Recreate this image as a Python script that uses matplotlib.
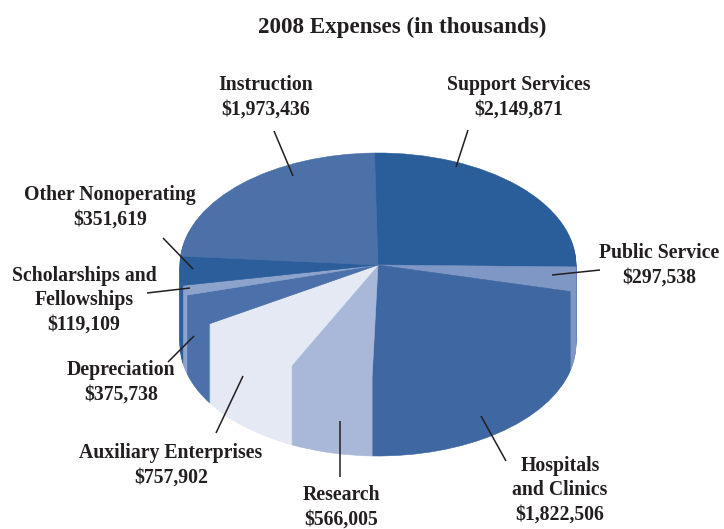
import matplotlib
matplotlib.use("Agg")
import matplotlib.pyplot as plt

categories = ["Support Services", "Public Service", "Hospitals and Clinics", "Research",
              "Auxiliary Enterprises", "Depreciation", "Scholarships and Fellowships",
              "Other Nonoperating", "Instruction"]
expenses = [2149871, 297538, 1822506, 566005, 757902, 375738, 119109, 351619, 1973436]
top_colors = ["#2A5E9A", "#7F97C5", "#3F68A3", "#A9B7D8", "#E4E9F4", "#4B70AA", "#8DA3CC", "#2C5E9C", "#4B71A8"]

title = "2008 Expenses (in thousands)"
label_texts = ["Support Services\n$2,149,871", "Public Service\n$297,538",
               "Hospitals\nand Clinics\n$1,822,506", "Research\n$566,005",
               "Auxiliary Enterprises\n$757,902", "Depreciation\n$375,738",
               "Scholarships and\nFellowships\n$119,109", "Other Nonoperating\n$351,619",
               "Instruction\n$1,973,436"]
label_pos = [(519, 97), (659, 265), (560, 490), (341, 507), (171, 465), (121, 382),
             (84, 300), (110, 207), (266, 97)]
leaders = [((468, 130), (456, 167)), ((600, 270), (552, 275)), ((506, 461), (481, 416)),
           ((340, 477), (340, 421)), ((216, 433), (243, 376)), ((168, 362), (194, 336)),
           ((147, 293), (190, 288)), ((163, 238), (193, 269)), ((274, 131), (293, 176))]

W, H = 724, 529
CX, CY, RX, RY, DEPTH = 378, 265, 198, 112, 79

fig = plt.figure(figsize=(W / 100, H / 100), dpi=100, facecolor="white")
ax = fig.add_axes([0, 0, 1, 1])
for d in range(DEPTH, -1, -1):
    wedges, _ = ax.pie(expenses, startangle=91, counterclock=False, colors=top_colors,
                       center=(0, -d / RY), radius=1)
    for w in wedges:
        w.set_edgecolor(w.get_facecolor())
        w.set_linewidth(0.4)
ax.set_aspect("auto")
ax.set_xlim(-CX / RX, (W - CX) / RX)
ax.set_ylim((CY - H) / RY, CY / RY)
ax.axis("off")

ov = fig.add_axes([0, 0, 1, 1], facecolor="none")
ov.set_xlim(0, W)
ov.set_ylim(H, 0)
ov.axis("off")
font = dict(family="Liberation Serif", fontweight="bold", color="#231F20",
            ha="center", va="center", linespacing=1.3)
ov.text(402, 27, title, fontsize=16.6, **font)
for txt, (x, y) in zip(label_texts, label_pos):
    ov.text(x, y, txt, fontsize=14.2, **font)
for (a, b) in leaders:
    ov.plot([a[0], b[0]], [a[1], b[1]], color="#231F20", lw=1.1, solid_capstyle="butt")

fig.savefig("out.png", dpi=100)
